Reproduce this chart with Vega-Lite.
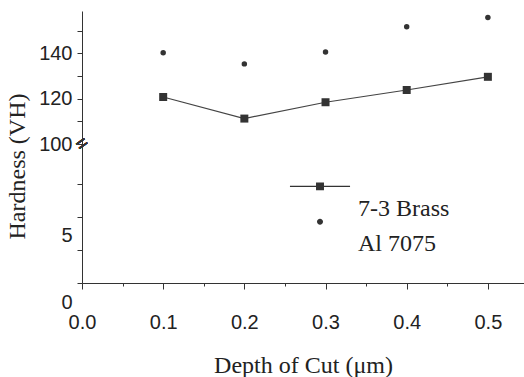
{
  "$schema": "https://vega.github.io/schema/vega-lite/v6.json",
  "width": 442,
  "height": 272,
  "autosize": "none",
  "padding": {"left": 82, "top": 11, "right": 0, "bottom": 94},
  "background": "white",
  "config": {"view": {"stroke": null}, "axis": {"grid": false}},
  "data": {
    "values": [
      {"depth": 0.1, "hardness": 120.7, "material": "7-3 Brass"},
      {"depth": 0.2, "hardness": 111.2, "material": "7-3 Brass"},
      {"depth": 0.3, "hardness": 118.4, "material": "7-3 Brass"},
      {"depth": 0.4, "hardness": 123.8, "material": "7-3 Brass"},
      {"depth": 0.5, "hardness": 129.6, "material": "7-3 Brass"},
      {"depth": 0.1, "hardness": 140.2, "material": "Al 7075"},
      {"depth": 0.2, "hardness": 135.3, "material": "Al 7075"},
      {"depth": 0.3, "hardness": 140.5, "material": "Al 7075"},
      {"depth": 0.4, "hardness": 151.7, "material": "Al 7075"},
      {"depth": 0.5, "hardness": 155.7, "material": "Al 7075"}
    ]
  },
  "encoding": {
    "x": {
      "field": "depth",
      "type": "quantitative",
      "scale": {"domain": [0, 0.5445], "nice": false, "zero": false},
      "axis": {
        "values": [0, 0.05, 0.1, 0.15, 0.2, 0.25, 0.3, 0.35, 0.4, 0.45, 0.5],
        "format": ".1f",
        "labelExpr": "indexof([0, 0.1, 0.2, 0.3, 0.4, 0.5], datum.value) >= 0 ? datum.label : ''",
        "labelFont": "Liberation Sans",
        "labelFontSize": 20,
        "labelColor": "#222",
        "labelPadding": 23,
        "labelFlush": false,
        "labelOverlap": false,
        "tickColor": "#333",
        "domainColor": "#333",
        "tickSize": {"condition": {"test": "indexof([0, 0.1, 0.2, 0.3, 0.4, 0.5], datum.value) >= 0", "value": 6}, "value": 3},
        "title": "Depth of Cut (μm)",
        "titleFont": "Liberation Serif",
        "titleFontSize": 24,
        "titleFontWeight": "normal",
        "titleColor": "#222",
        "titleBaseline": "alphabetic",
        "titleY": 89
      }
    },
    "y": {
      "field": "hardness",
      "type": "quantitative",
      "scale": {"type": "linear", "domain": [0, 10.5, 100, 158.6], "range": [272, 133, 133, 0], "nice": false, "zero": false},
      "axis": {
        "values": [0, 2.5, 5, 7.5, 100, 110, 120, 130, 140, 150],
        "format": "d",
        "labelExpr": "indexof([0, 5, 100, 120, 140], datum.value) >= 0 ? datum.label : ''",
        "labelFont": "Liberation Sans",
        "labelFontSize": 20,
        "labelColor": "#222",
        "labelPadding": 5,
        "labelOverlap": false,
        "labelFlush": false,
        "labelOffset": {"condition": {"test": "datum.value < 50", "value": 19}, "value": 0},
        "tickColor": "#333",
        "domainColor": "#333",
        "tickSize": 5,
        "title": "Hardness (VH)",
        "titleFont": "Liberation Serif",
        "titleFontSize": 24,
        "titleFontWeight": "normal",
        "titleColor": "#222",
        "titleAngle": 270,
        "titleAlign": "center",
        "titleBaseline": "middle",
        "titleX": -65,
        "titleY": 155
      }
    }
  },
  "layer": [
    {
      "transform": [{"filter": "datum.material === '7-3 Brass'"}],
      "mark": {"type": "line", "color": "#444", "strokeWidth": 1.2}
    },
    {
      "transform": [{"filter": "datum.material === '7-3 Brass'"}],
      "mark": {"type": "point", "shape": "square", "filled": true, "opacity": 1, "color": "#333", "size": 64}
    },
    {
      "transform": [{"filter": "datum.material === 'Al 7075'"}],
      "mark": {"type": "point", "shape": "circle", "filled": true, "opacity": 1, "color": "#333", "size": 30}
    },
    {
      "mark": {"type": "point", "filled": true, "opacity": 1, "color": "#333", "size": 0},
      "encoding": {
        "shape": {
          "field": "material",
          "type": "nominal",
          "title": null,
          "scale": {
            "domain": ["7-3 Brass", "Al 7075"],
            "range": [
              "M-9.5,-7.2L9.5,-7.2L9.5,-6.8L-9.5,-6.8Z M-1.26,-8.26L1.26,-8.26L1.26,-5.74L-1.26,-5.74Z",
              "M-0.95,-6.9A0.95,0.95,0,1,1,0.95,-6.9A0.95,0.95,0,1,1,-0.95,-6.9Z"
            ]
          },
          "legend": {
            "orient": "none",
            "legendX": 226,
            "legendY": 185.5,
            "title": null,
            "symbolSize": 40,
            "symbolStrokeWidth": 0,
            "labelFont": "Liberation Serif",
            "labelFontSize": 24,
            "labelColor": "#222",
            "labelOffset": 26,
            "rowPadding": -2
          }
        }
      }
    },
    {
      "mark": {"type": "text", "text": "=", "angle": -35, "fontSize": 20, "color": "#333", "font": "Liberation Sans"},
      "encoding": {
        "x": {"datum": 0, "type": "quantitative"},
        "y": {"datum": 100, "type": "quantitative"}
      }
    }
  ]
}
